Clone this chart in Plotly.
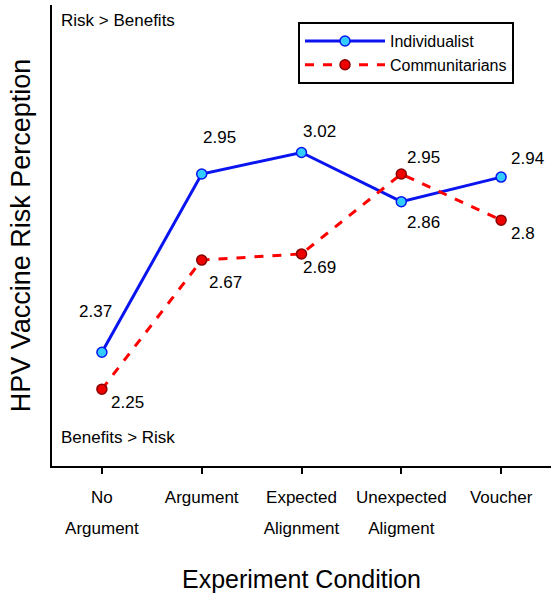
import plotly.graph_objects as go

categories = [["No", "Argument"], ["Argument"], ["Expected", "Alignment"], ["Unexpected", "Aligment"], ["Voucher"]]
individualist = [2.37, 2.95, 3.02, 2.86, 2.94]
communitarians = [2.25, 2.67, 2.69, 2.95, 2.80]

# label offsets in pixels (dx, dy up-positive)
ind_offsets = [(-6, 41), (18, 37), (18, 21), (22, -21), (26, 19)]
com_offsets = [(26, -13), (24, -22), (18, -14), (22, 17), (22, -13)]

FONT = "Liberation Sans, Arial, sans-serif"
x = list(range(len(categories)))
ticktext = ["<br>".join(f"<span style='font-size:17px'>{ln}</span>" for ln in c) for c in categories]

fig = go.Figure()
fig.add_trace(go.Scatter(
    x=x, y=individualist, name="Individualist", mode="lines+markers",
    line=dict(color="#0a14f0", width=3),
    marker=dict(size=10, color="#33ccff", line=dict(color="#0a14f0", width=1.5)),
))
fig.add_trace(go.Scatter(
    x=x, y=communitarians, name="Communitarians", mode="lines+markers",
    line=dict(color="#ff0000", width=3, dash="dash"),
    marker=dict(size=10, color="#ee0000", line=dict(color="#880000", width=1.5)),
))

annotations = []
for xi, v, (dx, dy) in zip(x, individualist, ind_offsets):
    annotations.append(dict(x=xi, y=v, text=f"{v:g}", showarrow=False, xshift=dx, yshift=dy,
                            font=dict(size=17, color="black", family=FONT)))
for xi, v, (dx, dy) in zip(x, communitarians, com_offsets):
    annotations.append(dict(x=xi, y=v, text=f"{v:g}", showarrow=False, xshift=dx, yshift=dy,
                            font=dict(size=17, color="black", family=FONT)))
annotations.append(dict(xref="paper", yref="paper", x=0.014, y=0.967, xanchor="left", yanchor="middle",
                        text="Risk > Benefits", showarrow=False, font=dict(size=17, color="black", family=FONT)))
annotations.append(dict(xref="paper", yref="paper", x=0.014, y=0.062, xanchor="left", yanchor="middle",
                        text="Benefits > Risk", showarrow=False, font=dict(size=17, color="black", family=FONT)))

fig.update_layout(
    width=551, height=600,
    margin=dict(l=52, r=0, t=5, b=134),
    paper_bgcolor="white", plot_bgcolor="white",
    font=dict(family=FONT, color="black"),
    showlegend=True,
    legend=dict(x=0.493, y=0.963, xanchor="left", yanchor="top",
                bgcolor="white", bordercolor="black", borderwidth=2,
                font=dict(size=16, family=FONT), tracegroupgap=0, itemwidth=80),
    annotations=annotations,
    xaxis=dict(
        range=[-0.5, 4.5], tickmode="array", tickvals=x, ticktext=ticktext,
        tickson="boundaries", ticks="outside", ticklen=6, tickwidth=2, tickcolor="black",
        showline=True, linecolor="black", linewidth=2, showgrid=False, zeroline=False,
        automargin=False,
        tickfont=dict(size=24, family=FONT),
        title=dict(text="Experiment Condition", font=dict(size=25, family=FONT), standoff=33),
    ),
    yaxis=dict(
        range=[2.0, 3.5], showticklabels=False, ticks="", showgrid=False, zeroline=False,
        showline=True, linecolor="black", linewidth=2, automargin=False,
        title=dict(text="HPV Vaccine Risk Perception", font=dict(size=27, family=FONT), standoff=12),
    ),
)

fig.write_html("out.html", config={"displayModeBar": False},
               post_script="document.body.style.margin='0';")
